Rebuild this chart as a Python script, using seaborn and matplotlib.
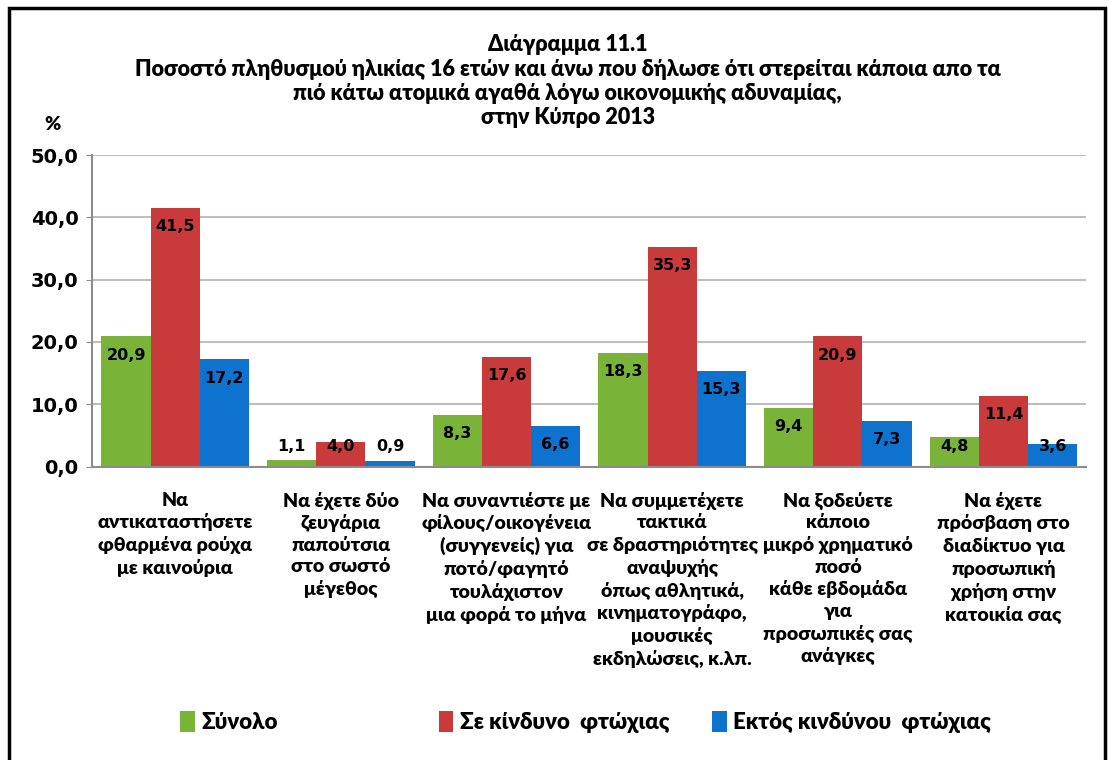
import numpy as np
import pandas as pd
import seaborn as sns
from matplotlib import pyplot as plt
from matplotlib.patches import Rectangle

# Data
categories = [
    "Να\nαντικαταστήσετε\nφθαρμένα ρούχα\nμε καινούρια",
    "Να έχετε δύο\nζευγάρια\nπαπούτσια\nστο σωστό\nμέγεθος",
    "Να συναντιέστε με\nφίλους/οικογένεια\n(συγγενείς) για\nποτό/φαγητό\nτουλάχιστον\nμια φορά το μήνα",
    "Να συμμετέχετε\nτακτικά\nσε δραστηριότητες\nαναψυχής\nόπως αθλητικά,\nκινηματογράφο,\nμουσικές\nεκδηλώσεις, κ.λπ.",
    "Να ξοδεύετε\nκάποιο\nμικρό χρηματικό\nποσό\nκάθε εβδομάδα\nγια\nπροσωπικές σας\nανάγκες",
    "Να έχετε\nπρόσβαση στο\nδιαδίκτυο για\nπροσωπική\nχρήση στην\nκατοικία σας",
]
series = ["Σύνολο", "Σε κίνδυνο  φτώχιας", "Εκτός κινδύνου  φτώχιας"]
total = [20.9, 1.1, 8.3, 18.3, 9.4, 4.8]
at_risk = [41.5, 4.0, 17.6, 35.3, 20.9, 11.4]
not_at_risk = [17.2, 0.9, 6.6, 15.3, 7.3, 3.6]
yticks = [0, 10, 20, 30, 40, 50]

title = ("Διάγραμμα 11.1\n"
         "Ποσοστό πληθυσμού ηλικίας 16 ετών και άνω που δήλωσε ότι στερείται κάποια απο τα\n"
         "πιό κάτω ατομικά αγαθά λόγω οικονομικής αδυναμίας,\n"
         "στην Κύπρο 2013")

df = pd.DataFrame({
    "cat": categories * 3,
    "series": np.repeat(series, len(categories)),
    "value": total + at_risk + not_at_risk,
})

colors = ["#79B439", "#C93B3B", "#0D73CE"]
narrow = ["Lato", "DejaVu Sans"]
wide = ["DejaVu Sans"]

sns.set_style("white")
plt.rcParams["text.color"] = "black"
plt.rcParams["xtick.color"] = "black"
plt.rcParams["ytick.color"] = "black"

fig = plt.figure(figsize=(11.13, 7.6), dpi=100)
ax = fig.add_axes([0.083, 0.386, 0.893, 0.41])

sns.barplot(data=df, x="cat", y="value", hue="series", hue_order=series,
            palette=colors, width=0.89, gap=0, saturation=1, ax=ax,
            edgecolor="none", legend=True)

for container, col in zip(ax.containers, colors):
    for bar in container:
        v = bar.get_height()
        ypos = max(v - 3.0, 3.2)
        ax.text(bar.get_x() + bar.get_width() / 2, ypos,
                f"{v:.1f}".replace(".", ","), ha="center", va="center",
                fontsize=11.5, weight="bold", family=wide, color="black")

ax.set_ylim(0, 50)
ax.set_yticks(yticks)
ax.set_yticklabels([f"{t:.1f}".replace(".", ",") for t in yticks],
                   fontsize=14, weight="bold", family=wide)
ax.set_xlim(-0.5, len(categories) - 0.5)
ax.set_xlabel("")
ax.set_ylabel("")
ax.tick_params(axis="y", length=4, color="#8C8C8C", direction="out", pad=6, left=True)
ax.tick_params(axis="x", length=0, pad=18)
for lab in ax.get_xticklabels():
    lab.set_family(narrow)
    lab.set_fontsize(14)
    lab.set_weight("heavy")
    lab.set_verticalalignment("top")
    lab.set_linespacing(1.32)

ax.set_axisbelow(True)
ax.yaxis.grid(True, color="#BEBEBE", lw=1.5)
ax.xaxis.grid(False)
for s in ["top", "right"]:
    ax.spines[s].set_visible(False)
ax.spines["left"].set_color("#8C8C8C")
ax.spines["bottom"].set_color("#8C8C8C")
ax.spines["left"].set_linewidth(1.5)
ax.spines["bottom"].set_linewidth(1.5)

handles, labels = ax.get_legend_handles_labels()
ax.get_legend().remove()
for h, l, x in zip(handles, labels, [0.162, 0.394, 0.640]):
    leg = fig.legend([h], [l], loc="center left", bbox_to_anchor=(x, 0.05),
                     frameon=False, handlelength=0.65, handleheight=1.1,
                     handletextpad=0.3, borderpad=0, borderaxespad=0,
                     prop={"family": narrow, "weight": "heavy", "size": 16})

fig.text(0.51, 0.955, title, ha="center", va="top", fontsize=15.5, weight="heavy",
         family=narrow, linespacing=1.2)
fig.text(0.047, 0.836, "%", ha="center", va="center", fontsize=14, weight="heavy",
         family=narrow)

fig.patches.append(Rectangle((0.008, -0.05), 0.985, 1.04, transform=fig.transFigure,
                             fill=False, edgecolor="black", lw=2.5))

fig.savefig("out.png", dpi=100)
